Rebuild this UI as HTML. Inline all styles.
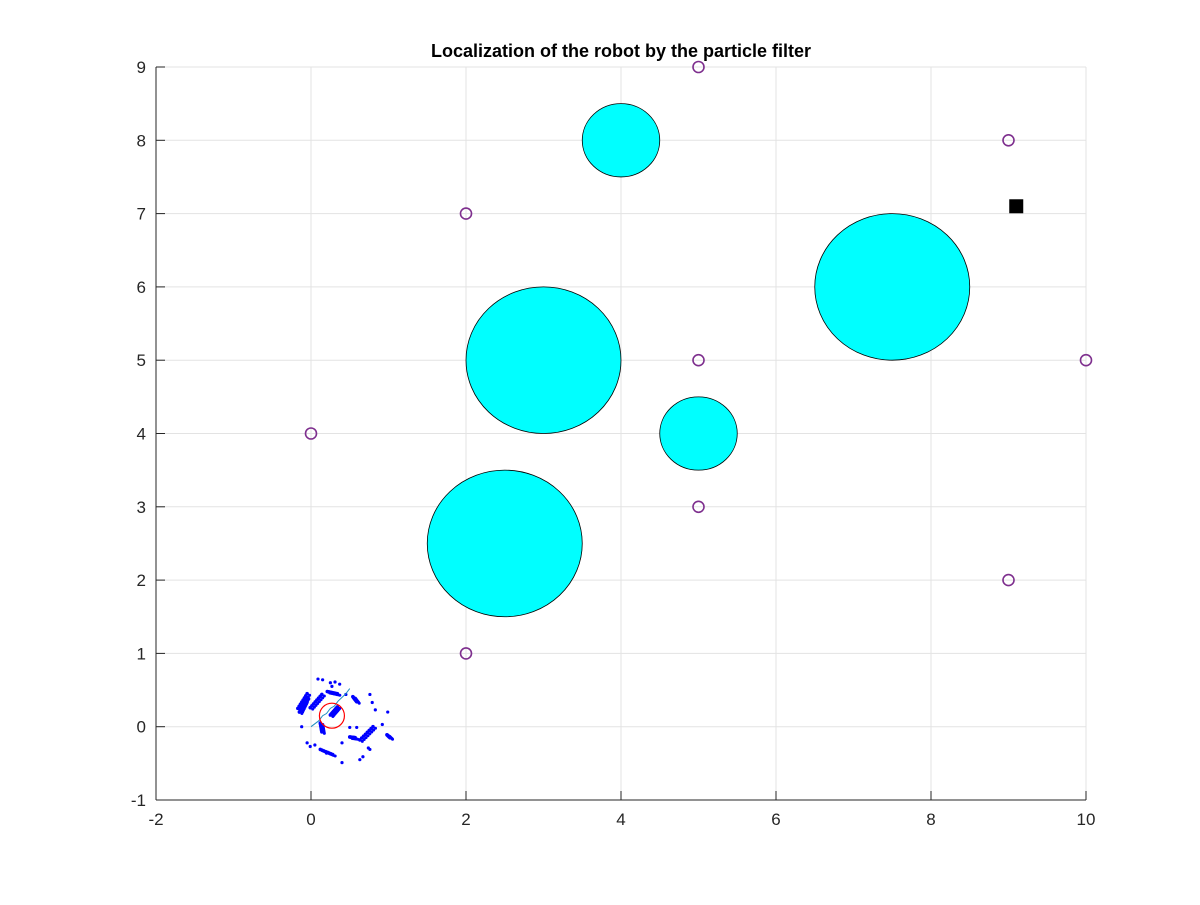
<!DOCTYPE html>
<html><head><meta charset="utf-8"><style>
html,body{margin:0;padding:0;background:#fff}
svg text{font-family:"Liberation Sans",sans-serif}
</style></head><body>
<svg id="chart" width="1200" height="900">
<rect width="1200" height="900" fill="#fff"/>
</svg>
<script>
const xTicks=[-2,0,2,4,6,8,10];
const yTicks=[-1,0,1,2,3,4,5,6,7,8,9];
const obstacleX=[4,7.5,3,5,2.5];
const obstacleY=[8,6,5,4,2.5];
const obstacleR=[0.5,1,1,0.5,1];
const landmarkX=[5,9,2,5,10,0,5,9,2];
const landmarkY=[9,8,7,5,5,4,3,2,1];
const streakX1=[-0.17,-0.15,-0.01,0.21,0.54,0.63,0.50,0.12,0.12,0.98,0.25,-0.12];
const streakY1=[0.25,0.20,0.26,0.48,0.41,-0.18,-0.14,-0.31,0.05,-0.11,0.16,0.30];
const streakX2=[-0.05,-0.08,0.14,0.34,0.59,0.80,0.57,0.28,0.14,1.02,0.34,-0.06];
const streakY2=[0.45,0.35,0.44,0.45,0.34,0.00,-0.15,-0.38,-0.07,-0.15,0.27,0.40];
const dotX=[0.09,0.15,0.25,0.31,0.37,0.27,0.76,0.79,0.83,0.99,0.50,0.59,0.74,0.76,0.05,0.40,0.40,0.63,0.67,-0.12,-0.05,-0.01,0.92,0.20,0.45];
const dotY=[0.65,0.64,0.60,0.61,0.58,0.55,0.44,0.33,0.23,0.20,-0.01,-0.01,-0.29,-0.31,-0.25,-0.22,-0.49,-0.45,-0.41,0.00,-0.22,-0.27,0.03,-0.36,0.44];
const pathX=[0.0,0.1,0.15,0.2,0.25,0.3,0.35,0.4,0.45,0.5];
const pathY=[0.0,0.08,0.15,0.18,0.25,0.28,0.35,0.4,0.45,0.52];
const robotX=[0.27], robotY=[0.15];
const beaconX=[9.1], beaconY=[7.1];

const NS='http://www.w3.org/2000/svg';
const svg=document.getElementById('chart');
const L=156,R=1086,T=67,B=800;
const sx=v=>L+(v+2)/12*(R-L);
const sy=v=>B-(v+1)/10*(B-T);
const kx=(R-L)/12, ky=(B-T)/10;
function mk(tag,a,parent){const e=document.createElementNS(NS,tag);for(const k in a)e.setAttribute(k,a[k]);(parent||svg).appendChild(e);return e;}

const grid=mk('g',{});


xTicks.forEach(t=>mk('line',{x1:sx(t),x2:sx(t),y1:T,y2:B,stroke:'#e3e3e3','stroke-width':1},grid));
yTicks.forEach(t=>mk('line',{x1:L,x2:R,y1:sy(t),y2:sy(t),stroke:'#e3e3e3','stroke-width':1},grid));

const obs=mk('g',{});


obstacleX.forEach((x,i)=>{const e=mk('ellipse',{cx:sx(x),cy:sy(obstacleY[i]),rx:obstacleR[i]*kx,ry:obstacleR[i]*ky,fill:'#00ffff',stroke:'#000','stroke-width':0.8},obs);

});

const lm=mk('g',{});


landmarkX.forEach((x,i)=>{const e=mk('circle',{cx:sx(x),cy:sy(landmarkY[i]),r:5.5,fill:'none',stroke:'#7e2f8e','stroke-width':1.6},lm);

});

const pg=mk('g',{fill:'#0000ff'});


streakX1.forEach((x,i)=>{const n=7;for(let j=0;j<=n;j++){const f=j/n;
 const px=x+(streakX2[i]-x)*f, py=streakY1[i]+(streakY2[i]-streakY1[i])*f;
 mk('circle',{cx:sx(px),cy:sy(py),r:1.8},pg);mk('circle',{cx:sx(px)+2.5,cy:sy(py)+1.5,r:1.5},pg);}});
dotX.forEach((x,i)=>mk('circle',{cx:sx(x),cy:sy(dotY[i]),r:1.6},pg));

const path=mk('polyline',{points:pathX.map((x,i)=>sx(x)+','+sy(pathY[i])).join(' '),fill:'none',stroke:'#1f8fbf','stroke-width':1});



const rob=mk('circle',{cx:sx(robotX[0]),cy:sy(robotY[0]),r:12.5,fill:'none',stroke:'#ff0000','stroke-width':1.2});



const bc=mk('rect',{x:sx(beaconX[0])-7,y:sy(beaconY[0])-7,width:14,height:14,fill:'#000'});



const ax=mk('g',{});


mk('line',{x1:L,x2:L,y1:T,y2:B,stroke:'#262626','stroke-width':1},ax);
mk('line',{x1:L,x2:R,y1:B,y2:B,stroke:'#262626','stroke-width':1},ax);
xTicks.forEach(t=>{mk('line',{x1:sx(t),x2:sx(t),y1:B,y2:B-9,stroke:'#262626'},ax);
 const tx=mk('text',{x:sx(t),y:B+25,'text-anchor':'middle','font-size':17,fill:'#262626'},ax);tx.textContent=t;
 
 });
yTicks.forEach(t=>{mk('line',{x1:L,x2:L+9,y1:sy(t),y2:sy(t),stroke:'#262626'},ax);
 const tx=mk('text',{x:L-10,y:sy(t)+6,'text-anchor':'end','font-size':17,fill:'#262626'},ax);tx.textContent=t;
 
 });
const title=mk('text',{x:621,y:57,'text-anchor':'middle','font-size':18,'font-weight':'bold',fill:'#000'});
title.textContent='Localization of the robot by the particle filter';


</script>
</body></html>
